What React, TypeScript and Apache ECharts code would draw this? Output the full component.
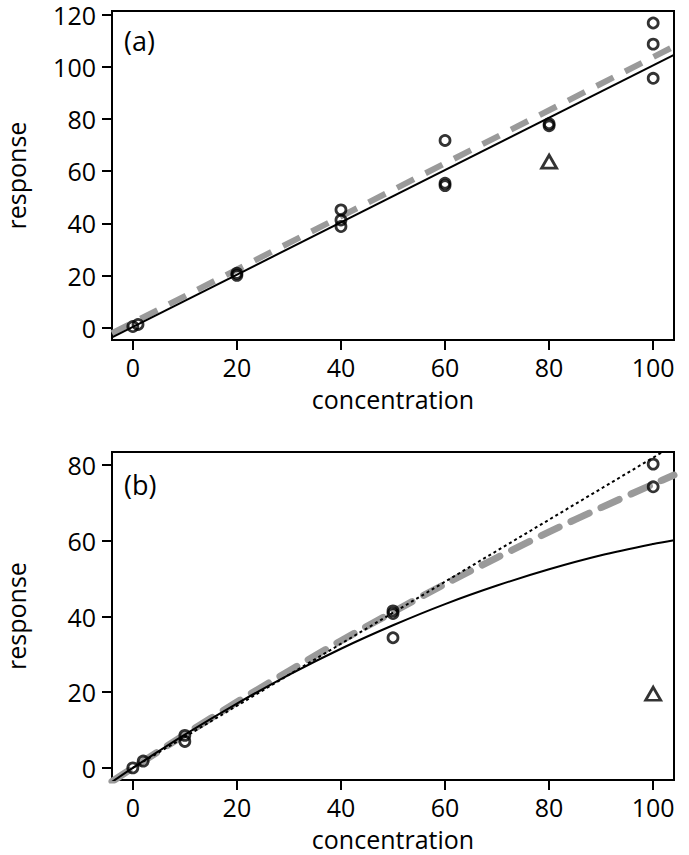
import React, { useEffect, useRef } from "react";
import * as echarts from "echarts";

// ---- data ----
const xTicks = [0, 20, 40, 60, 80, 100];
const yTicksA = [0, 20, 40, 60, 80, 100, 120];
const yTicksB = [0, 20, 40, 60, 80];

// panel (a)
const concA = [0, 1, 20, 20, 40, 40, 40, 60, 60, 60, 80, 80, 100, 100, 100];
const respA = [0.5, 1.3, 20.1, 20.9, 45.2, 41.3, 38.8, 71.8, 55.4, 54.5, 77.4, 78.2, 116.8, 108.7, 95.6];
const outlierA = [80, 63.7];
const lineAx = [-4, 104];
const blackA = [-3.7, 104.6];
const grayA = [-2.1, 107.8];

// panel (b)
const concB = [0, 2, 10, 10, 50, 50, 50, 100, 100];
const respB = [0, 1.8, 8.6, 7.0, 41.5, 40.8, 34.4, 80.3, 74.3];
const outlierB = [100, 19.6];
const curveBx = [-4, 0, 10, 20, 30, 40, 50, 60, 70, 80, 90, 100, 104];
const blackB = [-3.7, 0, 8.8, 17.0, 24.6, 31.5, 37.7, 43.3, 48.2, 52.5, 56.2, 59.2, 60.2];
const grayB = [-3.6, 0, 8.8, 17.4, 25.6, 33.6, 41.2, 48.6, 55.6, 62.4, 68.8, 75.0, 77.4];
const dottedBx = [0, 104];
const dottedB = [0, 85.3];

const FONT = '"Open Sans", "DejaVu Sans", sans-serif';
const GRAY = "#9a9a9a";

const zip = (xs: number[], ys: number[]) => xs.map((x, i) => [x, ys[i]]);

function xAxisCfg(gridIndex: number) {
  return {
    type: "value",
    gridIndex,
    min: -4,
    max: 104,
    name: "concentration",
    nameLocation: "middle",
    nameGap: 49,
    nameTextStyle: { fontSize: 25, lineHeight: 20, fontFamily: FONT, color: "#000" },
    axisLine: { show: true, onZero: false, lineStyle: { color: "#000", width: 2 } },
    axisTick: { show: true, length: 10, lineStyle: { color: "#000", width: 2 }, customValues: xTicks },
    axisLabel: { fontSize: 25, lineHeight: 20, fontFamily: FONT, color: "#000", margin: 17, customValues: xTicks },
    splitLine: { show: false },
  };
}

function yAxisCfg(gridIndex: number, min: number, max: number, ticks: number[]) {
  return {
    type: "value",
    gridIndex,
    min,
    max,
    name: "response",
    nameLocation: "middle",
    nameGap: 86,
    nameTextStyle: { fontSize: 25, lineHeight: 20, fontFamily: FONT, color: "#000" },
    axisLine: { show: true, onZero: false, lineStyle: { color: "#000", width: 2 } },
    axisTick: { show: true, length: 10, lineStyle: { color: "#000", width: 2 }, customValues: ticks },
    axisLabel: { fontSize: 25, lineHeight: 20, fontFamily: FONT, color: "#000", margin: 16, customValues: ticks },
    splitLine: { show: false },
  };
}

const circleStyle = { color: "transparent", borderColor: "#000", borderWidth: 2.8 };

export default function App() {
  const ref = useRef<HTMLDivElement>(null);
  useEffect(() => {
    if (!ref.current) return;
    const chart = echarts.init(ref.current, undefined, { renderer: "svg" });
    chart.setOption({
      animation: false,
      backgroundColor: "#fff",
      grid: [
        { left: 112, top: 11, width: 562, height: 329, show: true, borderColor: "#000", borderWidth: 2, backgroundColor: "transparent", containLabel: false, outerBoundsMode: "none" },
        { left: 112, top: 452, width: 562, height: 328, show: true, borderColor: "#000", borderWidth: 2, backgroundColor: "transparent", containLabel: false, outerBoundsMode: "none" },
      ],
      xAxis: [xAxisCfg(0), xAxisCfg(1)],
      yAxis: [yAxisCfg(0, -4.67, 121.4, yTicksA), yAxisCfg(1, -3.2, 83.5, yTicksB)],
      graphic: [
        { type: "text", left: 124, top: 27, style: { text: "(a)", font: `27px ${FONT}`, fill: "#000" } },
        { type: "text", left: 124, top: 471, style: { text: "(b)", font: `27px ${FONT}`, fill: "#000" } },
      ],
      series: [
        // panel (a)
        {
          type: "line", xAxisIndex: 0, yAxisIndex: 0, data: zip(lineAx, grayA), showSymbol: false, clip: true, z: 2,
          lineStyle: { color: GRAY, width: 6, type: [19, 13], cap: "butt" },
        },
        {
          type: "line", xAxisIndex: 0, yAxisIndex: 0, data: zip(lineAx, blackA), showSymbol: false, clip: true, z: 3,
          lineStyle: { color: "#000", width: 2 },
        },
        {
          type: "scatter", xAxisIndex: 0, yAxisIndex: 0, data: zip(concA, respA), symbol: "circle", symbolSize: 10, z: 4,
          itemStyle: circleStyle,
        },
        {
          type: "scatter", xAxisIndex: 0, yAxisIndex: 0, data: [outlierA], symbol: "triangle", symbolSize: [15, 13], z: 4,
          itemStyle: circleStyle,
        },
        // panel (b)
        {
          type: "line", xAxisIndex: 1, yAxisIndex: 1, data: zip(curveBx, grayB), showSymbol: false, smooth: 0.3, clip: true, z: 2,
          lineStyle: { color: GRAY, width: 7, type: [20, 13], cap: "round" },
        },
        {
          type: "line", xAxisIndex: 1, yAxisIndex: 1, data: zip(dottedBx, dottedB), showSymbol: false, clip: true, z: 3,
          lineStyle: { color: "#000", width: 2, type: [3, 3] },
        },
        {
          type: "line", xAxisIndex: 1, yAxisIndex: 1, data: zip(curveBx, blackB), showSymbol: false, smooth: 0.3, clip: true, z: 3,
          lineStyle: { color: "#000", width: 2 },
        },
        {
          type: "scatter", xAxisIndex: 1, yAxisIndex: 1, data: zip(concB, respB), symbol: "circle", symbolSize: 10, z: 4,
          itemStyle: circleStyle,
        },
        {
          type: "scatter", xAxisIndex: 1, yAxisIndex: 1, data: [outlierB], symbol: "triangle", symbolSize: [15, 13], z: 4,
          itemStyle: circleStyle,
        },
      ],
    });
    return () => chart.dispose();
  }, []);
  return <div ref={ref} style={{ position: "fixed", left: 0, top: 0, width: 689, height: 855 }} />;
}
